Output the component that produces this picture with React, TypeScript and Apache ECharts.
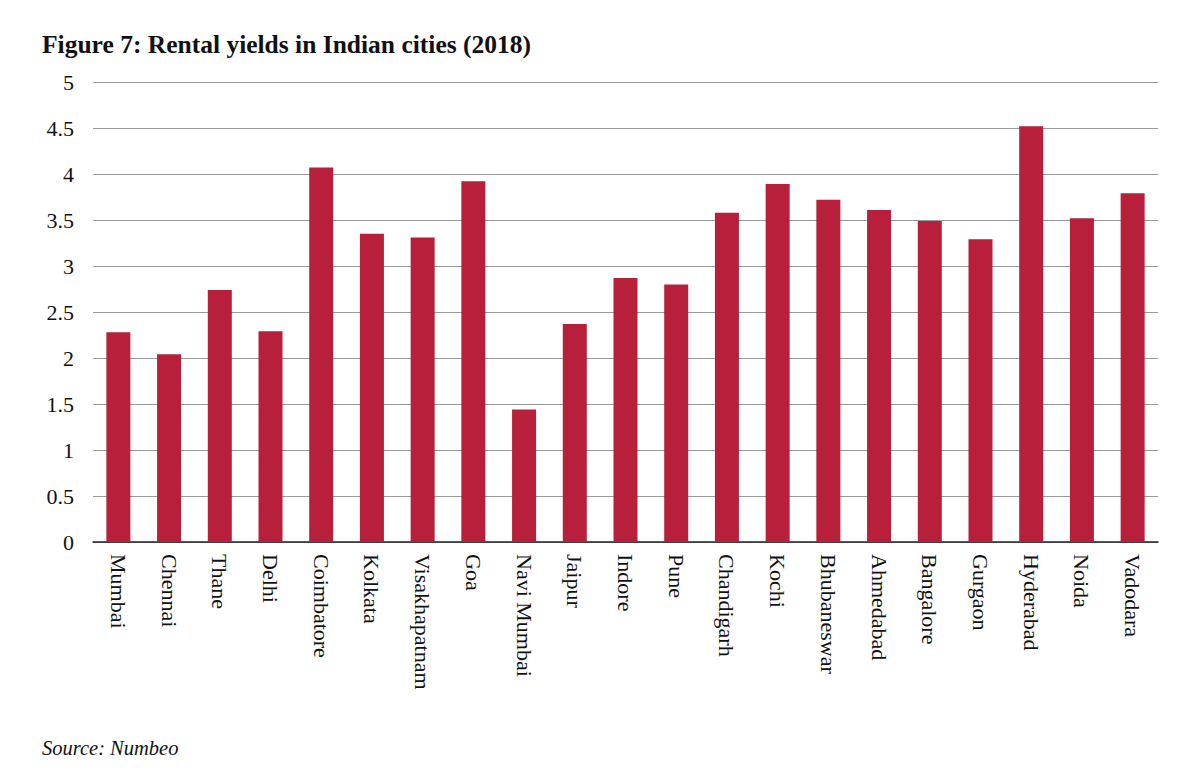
import React, { useEffect, useRef } from "react";
import * as echarts from "echarts";

const categories = [
  "Mumbai", "Chennai", "Thane", "Delhi", "Coimbatore", "Kolkata", "Visakhapatnam",
  "Goa", "Navi Mumbai", "Jaipur", "Indore", "Pune", "Chandigarh", "Kochi",
  "Bhubaneswar", "Ahmedabad", "Bangalore", "Gurgaon", "Hyderabad", "Noida", "Vadodara",
];
const yields = [
  2.28, 2.04, 2.74, 2.29, 4.07, 3.35, 3.31, 3.92, 1.44, 2.37, 2.87, 2.8, 3.58, 3.89,
  3.72, 3.61, 3.49, 3.29, 4.52, 3.52, 3.79,
];
const titleText = "Figure 7: Rental yields in Indian cities (2018)";
const sourceText = "Source: Numbeo";

const SERIF = "'Liberation Serif', 'DejaVu Serif', serif";

export default function App() {
  const ref = useRef<HTMLDivElement>(null);
  useEffect(() => {
    document.body.style.margin = "0";
    const chart = echarts.init(ref.current!, null, { renderer: "svg" });
    chart.setOption({
      animation: false,
      backgroundColor: "#ffffff",
      textStyle: { fontFamily: SERIF },
      title: [
        {
          text: titleText,
          left: 37,
          top: 26,
          textStyle: { fontFamily: SERIF, fontSize: 25.5, fontWeight: "bold", color: "#111" },
        },
        {
          text: sourceText,
          left: 37,
          top: 733,
          textStyle: { fontFamily: SERIF, fontSize: 20.5, fontStyle: "italic", fontWeight: "normal", color: "#111" },
        },
      ],
      grid: { left: 93, right: 42, top: 82, bottom: 242, containLabel: false },
      xAxis: {
        type: "category",
        data: categories,
        axisLine: { show: true, lineStyle: { color: "#222", width: 1.5 } },
        axisTick: { show: false },
        axisLabel: {
          rotate: -90,
          interval: 0,
          margin: 12,
          fontFamily: SERIF,
          fontSize: 22,
          color: "#111",
        },
      },
      yAxis: {
        type: "value",
        min: 0,
        max: 5,
        interval: 0.5,
        axisLine: { show: false },
        axisTick: { show: false },
        axisLabel: { margin: 19, fontFamily: SERIF, fontSize: 22, color: "#111" },
        splitLine: { lineStyle: { color: "#9a9a9a", width: 1 } },
      },
      series: [
        {
          type: "bar",
          data: yields,
          barWidth: 24,
          itemStyle: { color: "#B71F3A" },
        },
      ],
    });
    return () => chart.dispose();
  }, []);
  return <div ref={ref} style={{ width: 1200, height: 784 }} />;
}
